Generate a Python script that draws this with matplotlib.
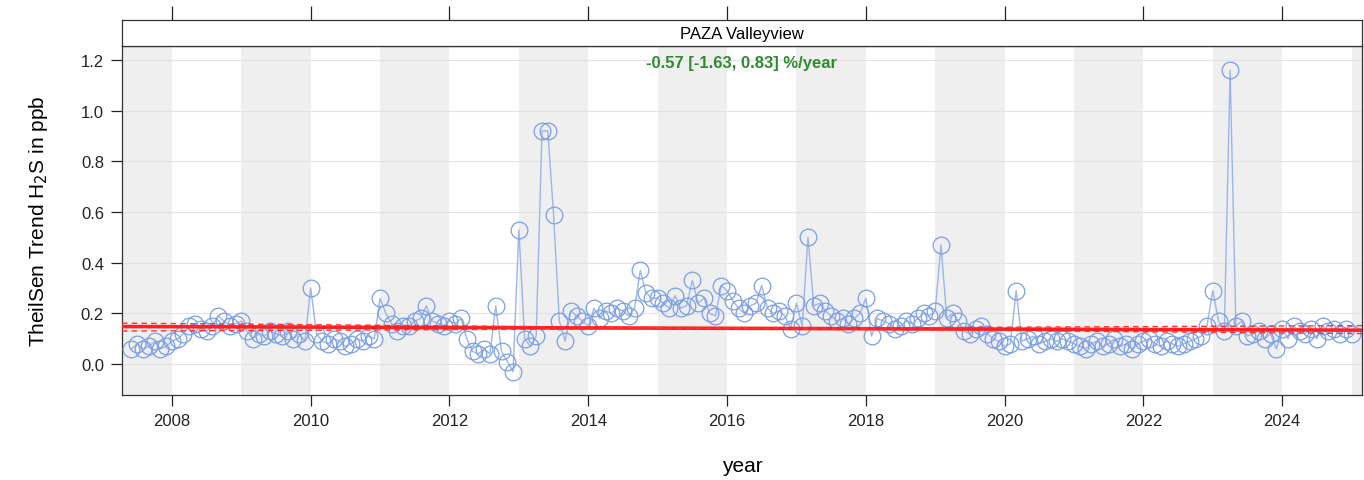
import numpy as np
import matplotlib
matplotlib.use("Agg")
import matplotlib.pyplot as plt

plt.rcParams['font.family'] = ['Liberation Sans', 'DejaVu Sans']

# monthly deseasonalised H2S (ppb), Jun 2007 .. Jan 2025
start_year, start_month = 2007, 6
h2s = [
    # 2007 Jun-Dec
    0.06, 0.08, 0.06, 0.07, 0.09, 0.06, 0.07,
    # 2008
    0.09, 0.10, 0.12, 0.15, 0.16, 0.14, 0.13, 0.15, 0.19, 0.17, 0.15, 0.16,
    # 2009
    0.17, 0.13, 0.10, 0.12, 0.11, 0.13, 0.12, 0.11, 0.13, 0.10, 0.12, 0.09,
    # 2010
    0.30, 0.12, 0.09, 0.08, 0.10, 0.09, 0.07, 0.08, 0.10, 0.09, 0.11, 0.10,
    # 2011
    0.26, 0.20, 0.16, 0.13, 0.15, 0.15, 0.17, 0.18, 0.23, 0.17, 0.16, 0.15,
    # 2012
    0.17, 0.16, 0.18, 0.10, 0.05, 0.04, 0.06, 0.04, 0.23, 0.05, 0.01, -0.03,
    # 2013
    0.53, 0.10, 0.07, 0.11, 0.92, 0.92, 0.59, 0.17, 0.09, 0.21, 0.19, 0.17,
    # 2014
    0.15, 0.22, 0.18, 0.21, 0.20, 0.22, 0.21, 0.19, 0.22, 0.37, 0.28, 0.26,
    # 2015
    0.26, 0.24, 0.22, 0.27, 0.22, 0.23, 0.33, 0.24, 0.26, 0.20, 0.19, 0.31,
    # 2016
    0.29, 0.25, 0.22, 0.20, 0.23, 0.24, 0.31, 0.22, 0.20, 0.21, 0.19, 0.14,
    # 2017
    0.24, 0.15, 0.50, 0.23, 0.24, 0.21, 0.19, 0.17, 0.18, 0.16, 0.18, 0.20,
    # 2018
    0.26, 0.11, 0.18, 0.17, 0.16, 0.14, 0.15, 0.17, 0.16, 0.18, 0.20, 0.19,
    # 2019
    0.21, 0.47, 0.18, 0.20, 0.17, 0.13, 0.12, 0.14, 0.15, 0.12, 0.10, 0.09,
    # 2020
    0.07, 0.08, 0.29, 0.09, 0.10, 0.11, 0.08, 0.09, 0.10, 0.09, 0.10, 0.09,
    # 2021
    0.08, 0.07, 0.06, 0.08, 0.09, 0.07, 0.08, 0.10, 0.07, 0.08, 0.06, 0.08,
    # 2022
    0.09, 0.10, 0.08, 0.07, 0.09, 0.08, 0.07, 0.08, 0.09, 0.10, 0.11, 0.15,
    # 2023
    0.29, 0.17, 0.13, 1.16, 0.15, 0.17, 0.11, 0.12, 0.13, 0.10, 0.12, 0.06,
    # 2024
    0.14, 0.10, 0.15, 0.13, 0.12, 0.14, 0.10, 0.15, 0.13, 0.14, 0.12, 0.14,
    # 2025
    0.12,
]

# trend (ppb/year) and its confidence bounds, pivot value at mid-period
trend_mid = 0.141
slope = -0.0008
slope_lower = -0.0023
slope_upper = 0.0012
site = "PAZA Valleyview"
trend_text = "-0.57 [-1.63, 0.83] %/year"

t = start_year + (start_month - 1) / 12 + np.arange(len(h2s)) / 12
y = np.array(h2s)

fig = plt.figure(figsize=(13.64, 4.81), dpi=100)
ax = fig.add_axes([0.0894, 0.1767, 0.9091, 0.7256])
strip = fig.add_axes([0.0894, 0.9023, 0.9091, 0.054])

xmin, xmax = 2007.28, 2025.15
ymin, ymax = -0.122, 1.255

# alternating year shading
for yr in range(2007, 2026, 2):
    ax.axvspan(yr, yr + 1, color='#efefef', lw=0, zorder=0)
for v in np.arange(0, 1.21, 0.2):
    ax.axhline(v, color='#e2e2e2', lw=0.8, zorder=1)

ax.plot(t, y, color='#9bb5ec', lw=1.0, zorder=2)
ax.plot(t, y, 'o', mfc='none', mec='#7a9ee8', mew=0.9, ms=12, zorder=3)

tm = (t[0] + t[-1]) / 2
tl = np.array([xmin, xmax])
ax.plot(tl, trend_mid + slope * (tl - tm), color='#ff2020', lw=2.6, zorder=4)
ax.plot(tl, trend_mid + slope_lower * (tl - tm), color='#ff3030', lw=1.0, ls=(0, (4, 3)), zorder=4)
ax.plot(tl, trend_mid + slope_upper * (tl - tm), color='#ff3030', lw=1.0, ls=(0, (4, 3)), zorder=4)

ax.text(0.5, 0.975, trend_text, transform=ax.transAxes, ha='center', va='top',
        color='#2e8b2e', fontsize=12, fontweight='bold', zorder=5)

ax.set_xlim(xmin, xmax)
ax.set_ylim(ymin, ymax)
ax.set_xticks(range(2008, 2025, 2))
ax.set_yticks(np.arange(0, 1.21, 0.2))
ax.set_yticklabels([f"{v:.1f}" for v in np.arange(0, 1.21, 0.2)])
ax.tick_params(axis='both', labelsize=12, colors='#222222', length=8, width=0.9,
               direction='out', pad=5)
ax.tick_params(axis='y', right=False)
ax.set_xlabel("year", fontsize=15, labelpad=20)
ax.set_ylabel("TheilSen Trend H$_2$S in ppb", fontsize=15, labelpad=22)
for s in ax.spines.values():
    s.set_linewidth(0.9)
    s.set_color('#333333')

strip.set_xlim(xmin, xmax)
strip.set_ylim(0, 1)
strip.set_yticks([])
strip.set_xticks(range(2008, 2025, 2))
strip.tick_params(axis='x', bottom=False, top=True, labelbottom=False, labeltop=False,
                  length=10, width=0.9, direction='out', colors='#222222')
strip.text(0.5, 0.5, site, transform=strip.transAxes, ha='center', va='center', fontsize=12)
for s in strip.spines.values():
    s.set_linewidth(0.9)
    s.set_color('#333333')

fig.savefig("out.png", dpi=100)
